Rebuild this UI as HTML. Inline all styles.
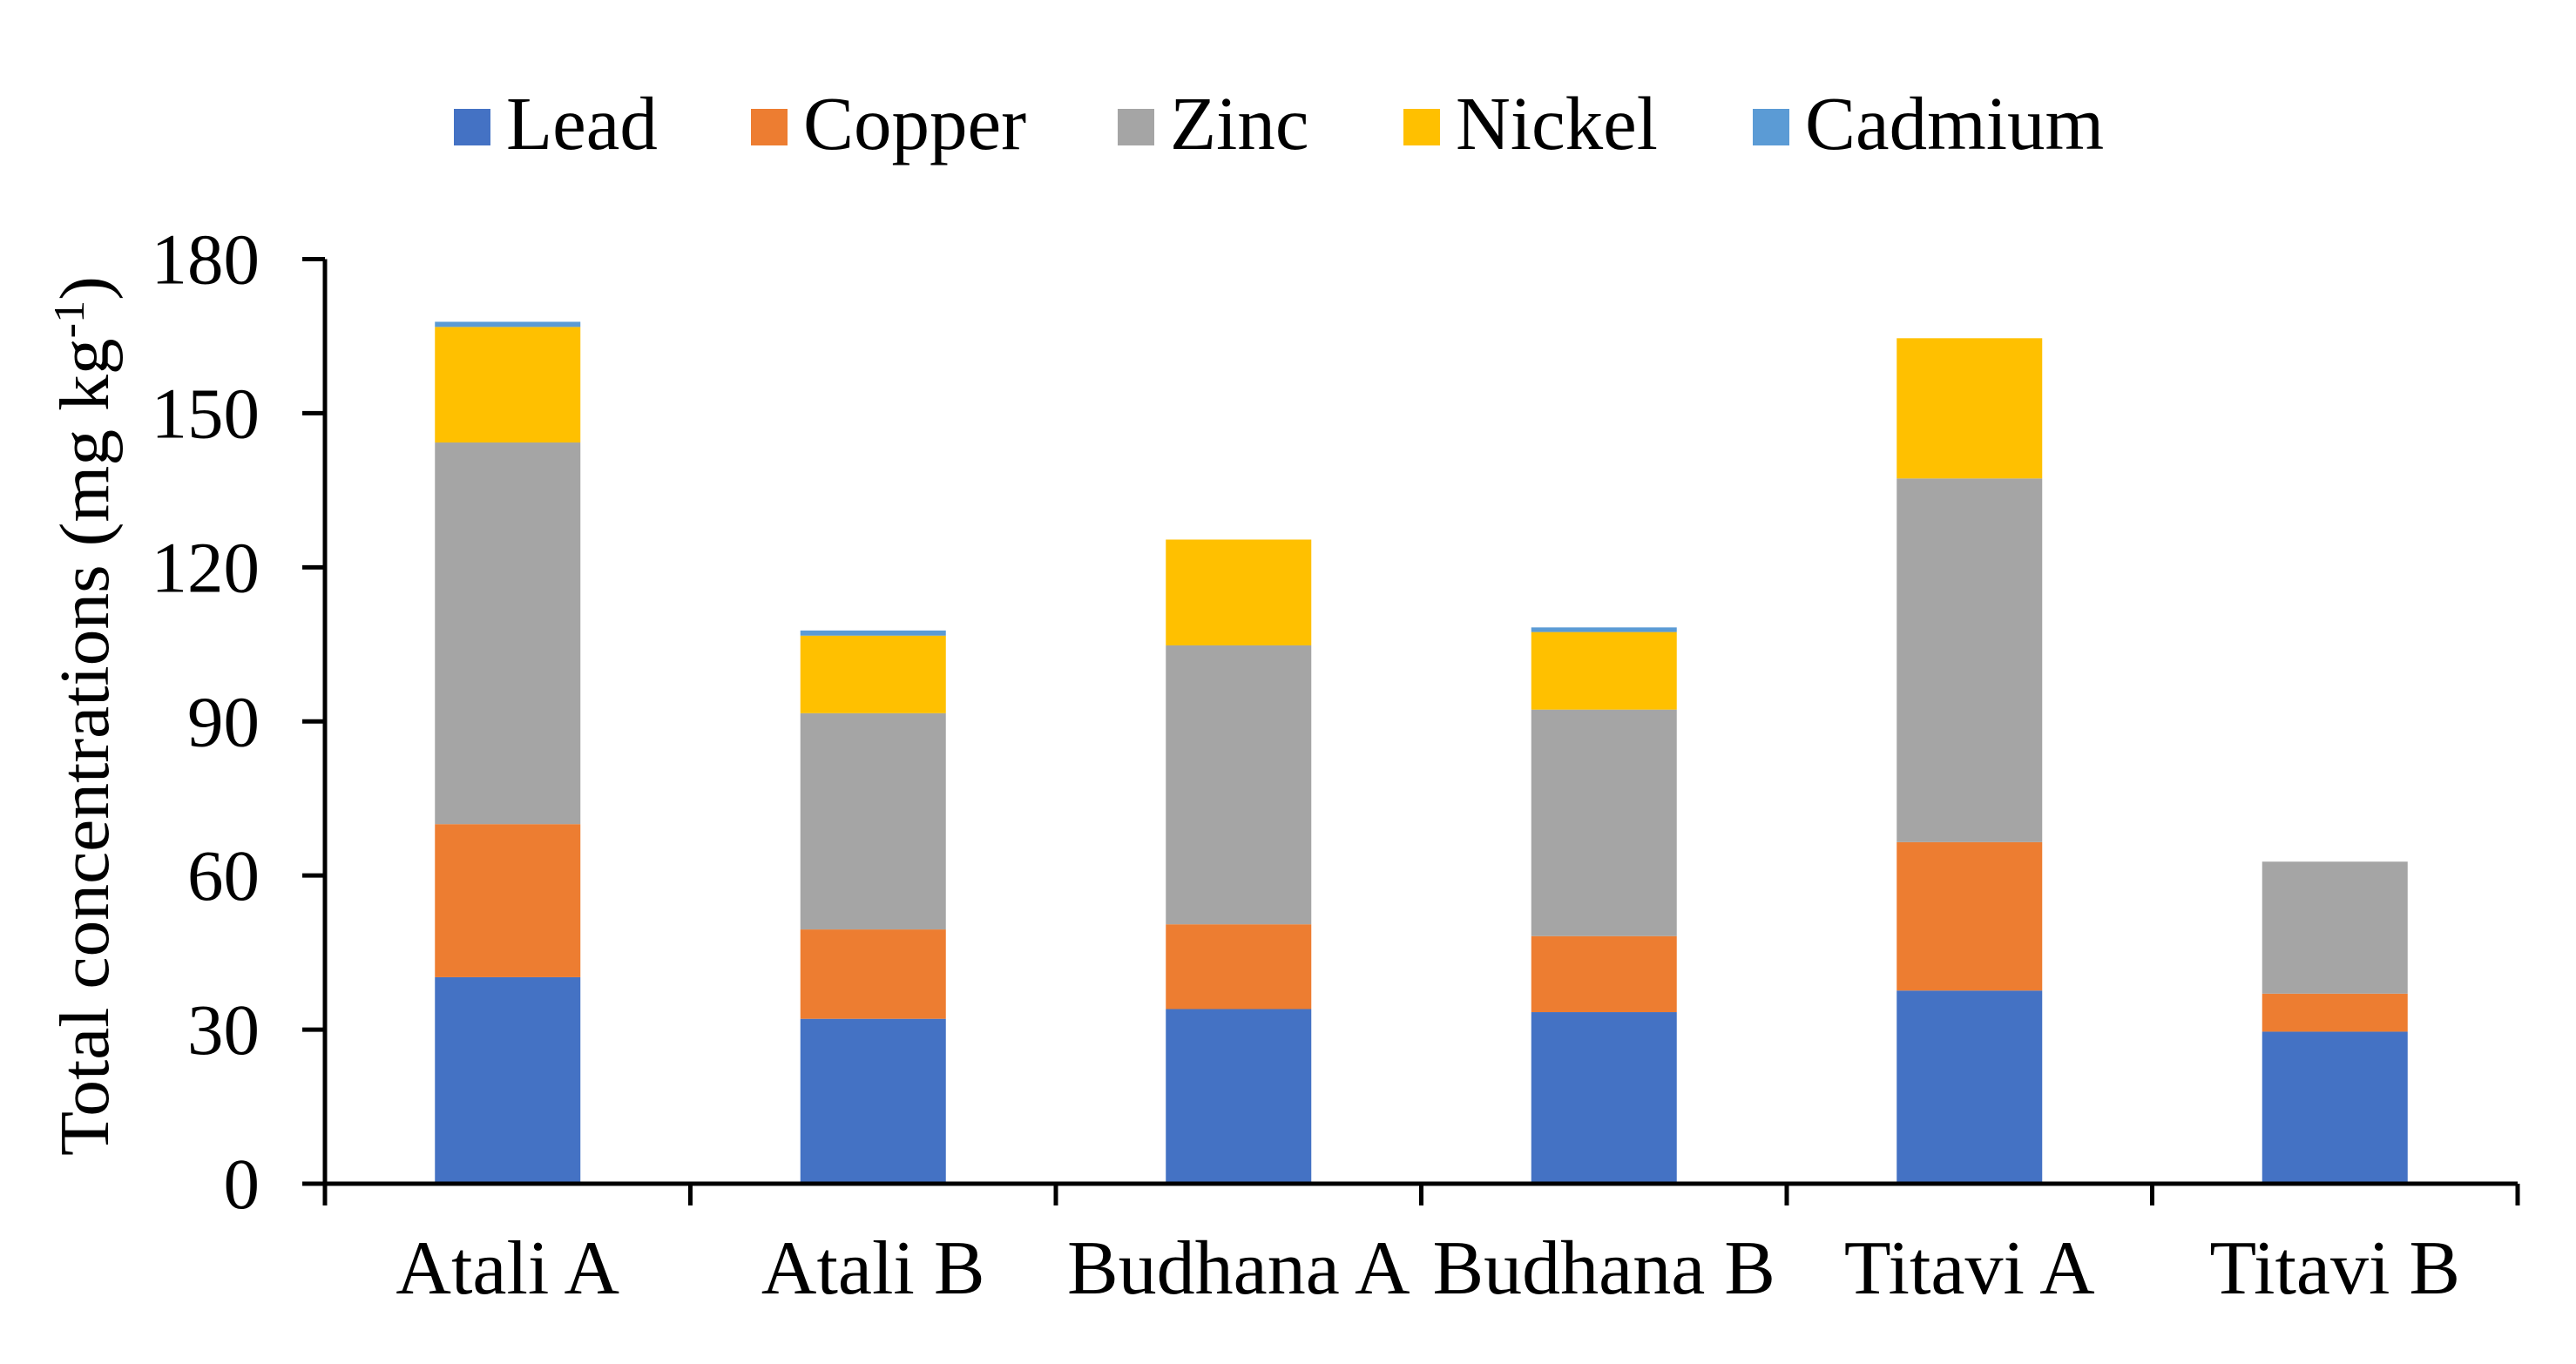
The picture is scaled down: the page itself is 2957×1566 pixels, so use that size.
<!DOCTYPE html>
<html><head><meta charset="utf-8"><style>
html,body{margin:0;padding:0;background:#fff;}
svg{display:block;font-family:"Liberation Serif","Times New Roman",serif;}
</style></head><body>
<svg id="chart" width="2957" height="1566" viewBox="0 0 2957 1566" xmlns="http://www.w3.org/2000/svg">
<g id="legend"></g>
<g id="bars"></g>
<g id="axes"></g>
<text transform="translate(124,822) rotate(-90)" text-anchor="middle" font-size="80" textLength="1010" lengthAdjust="spacingAndGlyphs">Total concentrations (mg kg<tspan baseline-shift="super" font-size="50">-1</tspan>)</text>
</svg>
<script>
const categories = ["Atali A","Atali B","Budhana A","Budhana B","Titavi A","Titavi B"];
const seriesNames = ["Lead","Copper","Zinc","Nickel","Cadmium"];
const lead = [40.2,32.1,34.0,33.4,37.6,29.6];
const copper = [29.8,17.4,16.5,14.8,28.9,7.4];
const zinc = [74.3,42.1,54.3,44.1,70.8,25.7];
const nickel = [22.5,15.1,20.6,15.1,27.3,0];
const cadmium = [1.0,1.0,0,0.9,0,0];
const yTicks = [0,30,60,90,120,150,180];

const colors = ["#4472C4","#ED7D31","#A5A5A5","#FFC000","#5B9BD5"];
const series = [lead,copper,zinc,nickel,cadmium];
const NS = "http://www.w3.org/2000/svg";
const x0 = 373, x1 = 2890, yBase = 1359, yTop = 297.5, yMax = 180;
const band = (x1 - x0) / categories.length, barW = 167;
const yS = v => yBase - (v / yMax) * (yBase - yTop);
const xC = i => x0 + band * (i + 0.5);
function mk(tag, attrs, parent){const e=document.createElementNS(NS,tag);for(const k in attrs)e.setAttribute(k,attrs[k]);parent.appendChild(e);return e;}

const barsG = document.getElementById('bars');
categories.forEach((c,i)=>{
  let acc = 0;
  series.forEach((s,j)=>{
    const v = s[i]; if(v<=0) return;
    const r = mk('rect',{x:xC(i)-barW/2,y:yS(acc+v),width:barW,height:yS(acc)-yS(acc+v),fill:colors[j]},barsG);
    
    
    acc += v;
  });
});

const ax = document.getElementById('axes');
const yl = mk('line',{x1:x0,y1:yTop,x2:x0,y2:yBase,stroke:'#000','stroke-width':5},ax);


const xl = mk('line',{x1:x0-2,y1:yBase,x2:x1,y2:yBase,stroke:'#000','stroke-width':5},ax);


yTicks.forEach(t=>{
  const y = yS(t);
  const tk = mk('line',{x1:x0-26,y1:y,x2:x0,y2:y,stroke:'#000','stroke-width':5},ax);
  
  
  const tx = mk('text',{x:x0-75,y:y+28,'text-anchor':'end','font-size':83},ax);
  tx.textContent = t;
  
  
});
for(let i=0;i<=categories.length;i++){
  const x = x0 + band*i;
  const tk = mk('line',{x1:x,y1:yBase,x2:x,y2:yBase+25,stroke:'#000','stroke-width':5},ax);
  
  
}
categories.forEach((c,i)=>{
  const tx = mk('text',{x:xC(i),y:1485,'text-anchor':'middle','font-size':88},ax);
  tx.textContent = c;
  
  
});

const lg = document.getElementById('legend');
const legX = [521,862,1283,1611,2012];
seriesNames.forEach((n,j)=>{
  const sw = mk('rect',{x:legX[j],y:125,width:42,height:42,fill:colors[j]},lg);
  
  
  const tx = mk('text',{x:legX[j]+60,y:171,'font-size':87},lg);
  tx.textContent = n;
  
  
});
</script>
</body></html>
